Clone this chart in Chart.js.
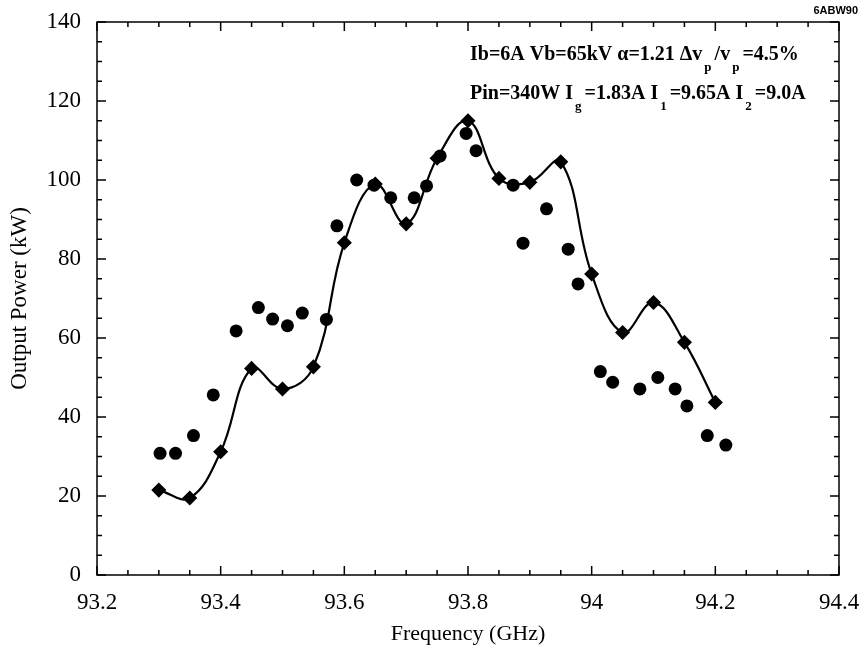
<!DOCTYPE html>
<html>
<head>
<meta charset="utf-8">
<script src="https://cdn.jsdelivr.net/npm/chart.js@4"></script>
<style>
  body { margin: 0; background: #fff; }
  #wrap { width: 862px; height: 648px; position: relative; }
</style>
</head>
<body>
<div id="wrap"><canvas id="chart"></canvas></div>
<script>
// Axis ticks
const xTicks = [93.2, 93.4, 93.6, 93.8, 94, 94.2, 94.4];
const yTicks = [0, 20, 40, 60, 80, 100, 120, 140];

// Diamonds (joined by the smooth curve)
const diamondFreq = [93.30, 93.35, 93.40, 93.45, 93.50, 93.55, 93.60, 93.65, 93.70, 93.75,
                     93.80, 93.85, 93.90, 93.95, 94.00, 94.05, 94.10, 94.15, 94.20];
const diamondPower = [21.5, 19.5, 31.2, 52.3, 47.1, 52.7, 84.1, 99.0, 88.9, 105.5,
                      115.0, 100.4, 99.4, 104.6, 76.2, 61.4, 69.0, 58.9, 43.7];

// Circles (measured points)
const circleFreq = [93.302, 93.327, 93.356, 93.388, 93.425, 93.461, 93.484, 93.508, 93.532, 93.571,
                    93.588, 93.620, 93.648, 93.675, 93.713, 93.733, 93.755, 93.797, 93.813, 93.873,
                    93.889, 93.927, 93.962, 93.978, 94.014, 94.034, 94.078, 94.107, 94.135, 94.154,
                    94.187, 94.217];
const circlePower = [30.8, 30.8, 35.3, 45.6, 61.8, 67.7, 64.8, 63.1, 66.3, 64.7,
                     88.4, 100.0, 98.7, 95.5, 95.5, 98.5, 106.1, 111.8, 107.4, 98.7,
                     84.0, 92.7, 82.5, 73.7, 51.5, 48.8, 47.1, 50.0, 47.1, 42.8,
                     35.3, 32.9];

const serif = '"Liberation Serif", "Times New Roman", serif';

function toPoints(xs, ys) {
  return xs.map((x, i) => ({ x: x, y: ys[i] }));
}

// Box frame with inward ticks on all four sides
const framePlugin = {
  id: 'frame',
  afterDraw(chart) {
    const ctx = chart.ctx;
    const area = chart.chartArea;
    const xs = chart.scales.x;
    const ys = chart.scales.y;
    ctx.save();
    ctx.strokeStyle = '#000';
    ctx.lineWidth = 1.5;
    ctx.strokeRect(area.left, area.top, area.right - area.left, area.bottom - area.top);

    ctx.beginPath();
    for (let i = 0; i < xTicks.length; i++) {
      for (let k = 0; k < 4; k++) {
        if (i === xTicks.length - 1 && k > 0) break;
        const v = i < xTicks.length - 1 ? xTicks[i] + (xTicks[i + 1] - xTicks[i]) * k / 4 : xTicks[i];
        const px = xs.getPixelForValue(v);
        const len = k === 0 ? 9 : 5;
        ctx.moveTo(px, area.bottom); ctx.lineTo(px, area.bottom - len);
        ctx.moveTo(px, area.top); ctx.lineTo(px, area.top + len);
      }
    }
    for (let i = 0; i < yTicks.length; i++) {
      for (let k = 0; k < 4; k++) {
        if (i === yTicks.length - 1 && k > 0) break;
        const v = i < yTicks.length - 1 ? yTicks[i] + (yTicks[i + 1] - yTicks[i]) * k / 4 : yTicks[i];
        const py = ys.getPixelForValue(v);
        const len = k === 0 ? 9 : 5;
        ctx.moveTo(area.left, py); ctx.lineTo(area.left + len, py);
        ctx.moveTo(area.right, py); ctx.lineTo(area.right - len, py);
      }
    }
    ctx.stroke();
    ctx.restore();
  }
};

// Parameter text block with subscripts
function drawRuns(ctx, x, y, runs) {
  for (const r of runs) {
    if (r.sub) {
      ctx.font = 'bold 13px ' + serif;
      ctx.fillText(r.t, x + 2, y + 11);
      x += ctx.measureText(r.t).width + 5;
    } else {
      ctx.font = 'bold 20px ' + serif;
      ctx.fillText(r.t, x, y);
      x += ctx.measureText(r.t).width;
    }
  }
}

const notePlugin = {
  id: 'note',
  afterDraw(chart) {
    const ctx = chart.ctx;
    ctx.save();
    ctx.fillStyle = '#000';
    ctx.textBaseline = 'alphabetic';
    drawRuns(ctx, 470, 60, [
      { t: 'Ib=6A Vb=65kV \u03b1=1.21 \u0394v' }, { t: 'p', sub: true },
      { t: '/v' }, { t: 'p', sub: true }, { t: '=4.5%' }
    ]);
    drawRuns(ctx, 470, 99, [
      { t: 'Pin=340W I' }, { t: 'g', sub: true },
      { t: '=1.83A I' }, { t: '1', sub: true },
      { t: '=9.65A I' }, { t: '2', sub: true }, { t: '=9.0A' }
    ]);
    ctx.font = 'bold 11px "Liberation Sans", Arial, sans-serif';
    ctx.textAlign = 'right';
    ctx.fillText('6ABW90', 858, 14);
    ctx.restore();
  }
};

const chart = new Chart(document.getElementById('chart'), {
  type: 'scatter',
  data: {
    datasets: [
      {
        label: 'measured',
        data: toPoints(circleFreq, circlePower),
        pointStyle: 'circle',
        pointRadius: 6.5,
        backgroundColor: '#000',
        borderColor: '#000',
        borderWidth: 0,
        showLine: false
      },
      {
        label: 'curve',
        data: toPoints(diamondFreq, diamondPower),
        pointStyle: 'rectRot',
        pointRadius: 6,
        backgroundColor: '#000',
        borderColor: '#000',
        borderWidth: 2.2,
        showLine: true,
        tension: 0.4
      }
    ]
  },
  options: {
    responsive: true,
    maintainAspectRatio: false,
    animation: false,
    layout: { padding: { top: 22, right: 23, left: 0, bottom: 0 } },
    plugins: {
      legend: { display: false },
      tooltip: { enabled: false }
    },
    scales: {
      x: {
        type: 'linear',
        min: 93.2,
        max: 94.4,
        afterBuildTicks: (s) => { s.ticks = xTicks.map(v => ({ value: v })); },
        afterFit: (s) => { s.height = 73; s.paddingLeft = 0; s.paddingRight = 0; },
        grid: { display: false, drawTicks: false },
        border: { display: false },
        ticks: {
          color: '#000',
          padding: 14,
          font: { family: serif, size: 23 },
          callback: (v) => String(parseFloat(v.toFixed(1)))
        },
        title: {
          display: true,
          text: 'Frequency (GHz)',
          color: '#000',
          font: { family: serif, size: 22 },
          padding: { top: 0, bottom: 1 }
        }
      },
      y: {
        type: 'linear',
        min: 0,
        max: 140,
        afterBuildTicks: (s) => { s.ticks = yTicks.map(v => ({ value: v })); },
        afterFit: (s) => { s.width = 97; s.paddingTop = 0; s.paddingBottom = 0; },
        grid: { display: false, drawTicks: false },
        border: { display: false },
        ticks: {
          color: '#000',
          padding: 16,
          font: { family: serif, size: 23 },
          callback: (v) => String(v)
        },
        title: {
          display: true,
          text: 'Output Power (kW)',
          color: '#000',
          font: { family: serif, size: 23 },
          padding: { top: 6, bottom: 0 }
        }
      }
    }
  },
  plugins: [framePlugin, notePlugin]
});
</script>
</body>
</html>
